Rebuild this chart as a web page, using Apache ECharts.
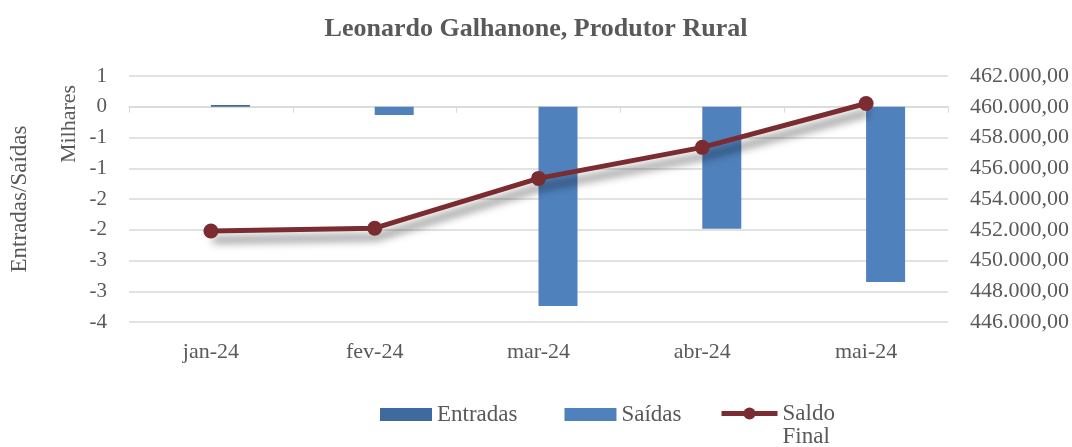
<!DOCTYPE html>
<html>
<head>
<meta charset="utf-8">
<script src="https://cdn.jsdelivr.net/npm/echarts@6/dist/echarts.min.js"></script>
<style>
  html, body { margin: 0; padding: 0; background: #fff; }
  #chart { width: 1072px; height: 447px; }
</style>
</head>
<body>
<div id="chart"></div>
<script>
const months = ['jan-24', 'fev-24', 'mar-24', 'abr-24', 'mai-24']
const entradas = [30, 0, 0, 0, 0]
const saidas = [0, -135, -3240, -1985, -2851]
const saldoFinal = [451920, 452100, 455340, 457360, 460210]

// left axis is in thousands ("Milhares"), Excel rounds the half steps
const leftTickLabels = ['1', '0', '-1', '-1', '-2', '-2', '-3', '-3', '-4']
const rightTickLabels = ['462.000,00', '460.000,00', '458.000,00', '456.000,00', '454.000,00',
  '452.000,00', '450.000,00', '448.000,00', '446.000,00']

const FONT = '"Liberation Serif", "DejaVu Serif", serif'
const TXT = '#595959'
const GRID = '#D9D9D9'
const SALDO = '#7B2C30'

const chart = echarts.init(document.getElementById('chart'))

chart.setOption({
  animation: false,
  textStyle: { fontFamily: FONT, color: TXT },
  title: {
    text: 'Leonardo Galhanone, Produtor Rural',
    left: 'center',
    top: 11,
    textStyle: { fontFamily: FONT, fontSize: 26, fontWeight: 'bold', color: TXT }
  },
  legend: [
    {
      data: ['Entradas', 'Saídas'],
      left: 375,
      top: 398,
      itemWidth: 52,
      itemHeight: 13,
      itemGap: 47,
      icon: 'rect',
      textStyle: { fontFamily: FONT, fontSize: 23, color: TXT }
    },
    {
      data: ['Saldo Final'],
      left: 714,
      top: 374,
      itemWidth: 56,
      itemHeight: 15,
      itemGap: 0,
      // leading blank line keeps "Saldo" level with the icon, "Final" below
      formatter: () => '\u00a0\nSaldo\nFinal',
      lineStyle: { width: 5 },
      textStyle: { fontFamily: FONT, fontSize: 23, color: TXT, lineHeight: 23 }
    }
  ],
  grid: { left: 129, right: 123, top: 76, bottom: 125 },
  xAxis: [
    {
      type: 'category',
      data: months,
      axisLine: { show: false, onZero: false },
      axisTick: { show: false },
      axisLabel: { color: TXT, fontSize: 22, margin: 19, fontFamily: FONT }
    },
    {
      type: 'category',
      data: months,
      position: 'bottom',
      axisLine: { onZero: true, onZeroAxisIndex: 0, lineStyle: { color: GRID, width: 1.5 } },
      axisTick: { show: true, length: 6, lineStyle: { color: GRID } },
      axisLabel: { show: false },
      splitLine: { show: false }
    }
  ],
  yAxis: [
    {
      type: 'value',
      min: -3500,
      max: 500,
      interval: 500,
      name: 'Entradas/Saídas',
      nameLocation: 'middle',
      nameGap: 98,
      nameRotate: 90,
      nameTextStyle: { fontFamily: FONT, fontSize: 23, color: TXT },
      axisLine: { show: false },
      axisTick: { show: false },
      axisLabel: {
        color: TXT, fontSize: 21, margin: 22, fontFamily: FONT,
        formatter: v => leftTickLabels[Math.round((500 - v) / 500)]
      },
      splitLine: { lineStyle: { color: GRID, width: 1.5 } }
    },
    {
      type: 'value',
      position: 'right',
      min: 446000,
      max: 462000,
      interval: 2000,
      axisLine: { show: false },
      axisTick: { show: false },
      axisLabel: {
        color: TXT, fontSize: 22, margin: 22, fontFamily: FONT,
        formatter: v => rightTickLabels[Math.round((462000 - v) / 2000)]
      },
      splitLine: { show: false }
    }
  ],
  graphic: [
    {
      type: 'text',
      x: 69,
      y: 124,
      rotation: Math.PI / 2,
      style: {
        text: 'Milhares',
        fontFamily: FONT,
        fontSize: 22,
        fill: TXT,
        align: 'center',
        verticalAlign: 'middle'
      }
    }
  ],
  series: [
    {
      // empty slot so the real bars sit right of the category centre, as in Excel
      name: 'gap',
      type: 'bar',
      data: months.map(() => null),
      barWidth: 39
    },
    {
      name: 'Entradas',
      type: 'bar',
      stack: 'mov',
      data: entradas,
      barWidth: 39,
      itemStyle: { color: '#3E6A9E' }
    },
    {
      name: 'Saídas',
      type: 'bar',
      stack: 'mov',
      data: saidas,
      barWidth: 39,
      barGap: '0%',
      itemStyle: { color: '#4F81BD' }
    },
    {
      name: 'Saldo Final',
      type: 'line',
      yAxisIndex: 1,
      data: saldoFinal,
      symbol: 'circle',
      symbolSize: 15,
      lineStyle: {
        color: SALDO,
        width: 5,
        shadowColor: 'rgba(0,0,0,0.55)',
        shadowBlur: 9,
        shadowOffsetX: 2,
        shadowOffsetY: 9
      },
      itemStyle: { color: SALDO },
      z: 5
    }
  ]
})
</script>
</body>
</html>
